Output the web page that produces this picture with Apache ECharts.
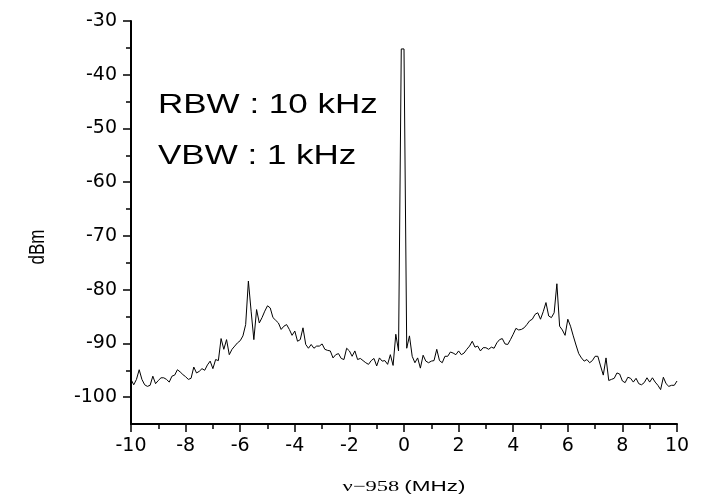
<!DOCTYPE html>
<html>
<head>
<meta charset="utf-8">
<script src="https://cdn.jsdelivr.net/npm/echarts@6/dist/echarts.min.js"></script>
<style>
  html, body { margin: 0; padding: 0; background: #fff; }
  #chart { width: 708px; height: 501px; }
</style>
</head>
<body>
<div id="chart"></div>
<script>
// spectrum trace, 0.1 MHz steps from -10 to 10 MHz (offset from 958 MHz)
const freqStart = -10;
const freqStep = 0.1;
const powerDbm = [
  -96.7, -97.7, -96.7, -94.9, -96.7, -97.7, -98.0, -97.8, -96.1, -97.5,
  -96.9, -96.4, -96.4, -96.7, -97.2, -96.1, -95.9, -94.9, -95.3, -95.8,
  -96.2, -96.7, -96.5, -94.4, -95.5, -95.2, -94.7, -95.0, -94.0, -93.3,
  -94.7, -93.0, -93.2, -89.1, -91.1, -89.3, -92.1, -91.1, -90.5, -89.9,
  -89.5, -88.6, -86.5, -78.4, -84.0, -89.3, -83.7, -86.2, -85.2, -84.0,
  -83.0, -83.4, -85.2, -85.7, -86.2, -87.4, -86.8, -86.5, -87.4, -88.5,
  -87.7, -89.6, -89.3, -87.1, -90.2, -90.9, -90.2, -90.9, -90.5, -90.5,
  -90.1, -91.1, -91.3, -91.4, -92.7, -92.1, -91.9, -92.8, -93.0, -90.9,
  -91.4, -92.4, -91.4, -93.0, -92.8, -93.2, -93.6, -93.9, -93.2, -92.8,
  -94.2, -92.7, -93.3, -93.2, -93.9, -92.1, -94.1, -88.3, -91.4, -35.2,
  -35.2, -90.9, -88.6, -92.4, -93.6, -92.7, -94.6, -92.2, -93.3, -93.6,
  -93.3, -93.2, -91.1, -93.2, -93.6, -92.4, -92.4, -91.6, -91.8, -92.1,
  -91.4, -92.1, -91.8, -91.1, -90.5, -89.6, -90.7, -90.5, -91.4, -90.8,
  -90.8, -91.1, -90.7, -90.9, -89.9, -89.3, -89.1, -90.1, -90.2, -89.3,
  -88.3, -87.2, -87.5, -87.4, -87.1, -86.5, -85.8, -85.5, -84.6, -84.3,
  -85.5, -84.1, -82.4, -84.9, -85.2, -84.3, -78.9, -86.8, -87.5, -88.5,
  -85.5, -86.8, -88.6, -90.3, -91.9, -92.7, -93.3, -93.0, -93.6, -93.2,
  -92.4, -92.4, -94.2, -95.9, -92.7, -96.9, -96.7, -96.5, -95.5, -95.7,
  -97.0, -97.3, -96.3, -96.5, -97.2, -96.5, -97.5, -97.7, -97.3, -96.4,
  -97.2, -96.4, -97.2, -97.8, -98.6, -96.3, -97.5, -98.0, -97.8, -97.8,
  -97.0
];
const yMajorTicks = [-100, -90, -80, -70, -60, -50, -40, -30];
const yMinorTicks = [-95, -85, -75, -65, -55, -45, -35];
const notes = ['RBW : 10 kHz', 'VBW : 1 kHz'];

const trace = powerDbm.map((v, i) => [+(freqStart + i * freqStep).toFixed(1), v]);

const black = '#000';
const labelFont = { color: black, fontSize: 19, fontFamily: 'DejaVu Sans' };

const chart = echarts.init(document.getElementById('chart'), null, { renderer: 'canvas' });

chart.setOption({
  animation: false,
  backgroundColor: '#fff',
  grid: { left: 131, right: 31, top: 21, bottom: 77 },
  xAxis: {
    type: 'value',
    min: -10, max: 10, interval: 2,
    axisLine: { onZero: false, lineStyle: { color: black, width: 2 } },
    axisTick: { length: 8, lineStyle: { color: black, width: 1.5 } },
    minorTick: { show: true, splitNumber: 2, length: 5, lineStyle: { color: black, width: 1.5 } },
    splitLine: { show: false },
    axisLabel: Object.assign({ margin: 13 }, labelFont)
  },
  yAxis: [
    {
      type: 'value',
      position: 'left',
      min: -105, max: -30, interval: 5,
      axisLine: { show: true, onZero: false, lineStyle: { color: black, width: 2 } },
      axisTick: { show: true, length: 8, customValues: yMajorTicks, lineStyle: { color: black, width: 1.5 } },
      splitLine: { show: false },
      axisLabel: Object.assign({ margin: 14, customValues: yMajorTicks }, labelFont)
    },
    {
      // second axis on the same side, only for the short in-between ticks
      type: 'value',
      position: 'left',
      min: -105, max: -30, interval: 5,
      axisLine: { show: false, onZero: false },
      axisTick: { show: true, length: 5, customValues: yMinorTicks, lineStyle: { color: black, width: 1.5 } },
      splitLine: { show: false },
      axisLabel: { show: false }
    }
  ],
  series: [{
    type: 'line',
    data: trace,
    showSymbol: false,
    lineStyle: { color: black, width: 1 },
    silent: true
  }],
  graphic: [
    {
      type: 'text', x: 158, y: 105, scaleX: 1.25,
      style: { text: notes[0], fontSize: 28, fontFamily: 'Liberation Sans', fill: black, verticalAlign: 'middle' }
    },
    {
      type: 'text', x: 158, y: 156, scaleX: 1.25,
      style: { text: notes[1], fontSize: 28, fontFamily: 'Liberation Sans', fill: black, verticalAlign: 'middle' }
    },
    {
      type: 'text', x: 38, y: 247, rotation: Math.PI / 2, scaleY: 1.25,
      style: { text: 'dBm', fontSize: 17, fontFamily: 'Liberation Sans', fill: black, align: 'center', verticalAlign: 'middle' }
    },
    {
      type: 'text', x: 404, y: 487, scaleX: 1.5,
      style: {
        text: '{a|ν−958} {b|(MHz)}',
        align: 'center', verticalAlign: 'middle',
        rich: {
          a: { fontSize: 15, fontFamily: 'Liberation Serif', fill: black },
          b: { fontSize: 15, fontFamily: 'Liberation Sans', fill: black }
        }
      }
    }
  ]
});
</script>
</body>
</html>
